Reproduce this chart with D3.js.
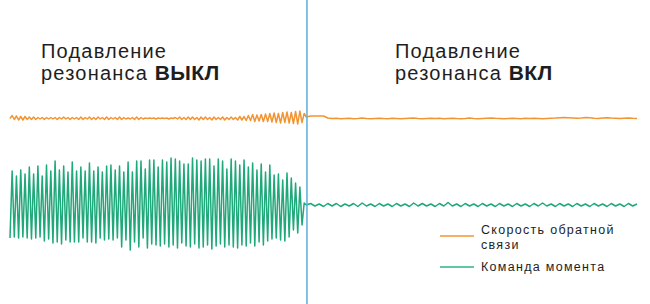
<!DOCTYPE html>
<meta charset="utf-8">
<style>
body { margin: 0; background: #fff; }
text { font-family: "Liberation Sans", Arial, sans-serif; fill: #1e1e1e; }
.sig { fill: none; stroke-width: 1.5px; stroke-linejoin: round; }
</style>
<body>
<svg width="650" height="304"></svg>
<script src="https://cdnjs.cloudflare.com/ajax/libs/d3/7.8.5/d3.min.js"></script>
<script>

// torque command, resonance suppression OFF: troughs and peaks of each cycle
var greenTroughs = [-33,-32,-33,-32,-33,-34,-33,-32,-36,-34,-38,-37,-39,-35,-37,-37,
  -37,-33,-37,-37,-38,-33,-35,-34,-35,-33,-42,-35,-45,-37,-42,-33,-43,-39,
  -40,-41,-39,-42,-40,-43,-38,-41,-42,-39,-43,-42,-40,-44,-41,-39,-42,-40,
  -42,-43,-40,-41,-38,-41,-37,-40,-36,-34,-33,-35,-36,-32,-25,-28,-20];
var greenPeaks = [34,29,35,31,38,31,39,29,40,34,44,35,39,33,43,34,
  38,34,42,34,38,33,39,40,35,39,33,43,33,44,44,36,45,
  45,38,45,43,47,46,44,41,41,47,45,44,46,46,39,46,44,36,46,
  44,40,45,38,42,35,41,33,40,30,31,25,32,27,22,18,2];

// torque command, suppression ON (every 2nd sample)
var greenRight = [0,1.5,-1,1,-1.5,1.5,-1,1.5,-1.5,1,-1,1.5,-1.5,2,-1,1,-1.5,1.5,-1,1,
  -1.5,1.5,-1,1,-1.5,2,-1,1.5,-1,1,-1.5,1.5,-1,2.5,-1,1,-1.5,1.5,-1,1,
  -1.5,1.5,-1,1,-1.5,1.5,-1,1,-1.5,1.5,-1,1,-1.5,1.5,-1,2,-1,1,-1.5,1.5,
  -1,1,-1.5,1.5,-1,1,-1.5,1.5,-1,1,-1.5,1.5,-1,1,-1.5,1.5,-1,1];

// feedback speed, suppression OFF (every sample)
var orangeLeft = [0,3,-1,2.5,-1.5,2,-1.5,2,-1,1.5,
  -1,1.5,-1,1,-0.5,1,-1,1,-0.5,1,
  -0.5,1,-1,1,-0.5,1.5,-0.5,1,-1,1,
  -0.5,1,-1,1.5,-1,1,-0.5,1.5,-1,1,
  -1,1.5,-0.5,1,-1,1.5,-1,1,-0.5,1,
  -1,1.5,-1,1,-0.5,0.5,-0.5,1,-1,1.5,
  -1,1,-0.5,0.5,0,0.5,0,0.5,-0.5,0.5,
  0,0.5,0,0.5,-0.5,0.5,0,1,-0.5,1.5,
  -1,1,-1,1.5,-1,1.5,-1,1,-1.5,1.5,
  -1,1.5,-1,1,-1.5,1.5,-1,1,-1,1.5,
  -1.5,1,-1,1.5,-1,1,-1.5,2,-1.5,2,
  -2,3,-2,4,-3,3.5,-2.5,4,-3,4.5,
  -3,5,-3.5,5.5,-4,5,-4.5,6,-4,6.5,
  -4.5,6,-5,7,-5.5,7.5,-4,5];

// feedback speed, suppression ON (every 2nd sample)
var orangeRight = [1.5,2.5,2.5,2.5,2.5,0.5,0,0.2,-0.3,0,0.3,-0.2,0,0.5,0,-0.3,0,0.3,0,-0.2,
  0.2,0,-0.3,0,0.3,0.5,0,-0.3,0,0.3,0,0.2,-0.3,0,0.3,0,-0.2,0,0.4,0,
  -0.3,0,0.3,0.5,0.2,0,-0.3,0,0.2,0,-0.2,0.3,0,0.2,0,-0.3,0,0.3,0.5,0.8,
  1,0.8,0.5,0.2,0.5,1,0.7,0.3,0,0.5,0.8,0.5,0.3,0,0.3,0.5,0.2,0];

var totalSamples = 292, switchAt = 138.3;
var titleOff = ["Подавление", "резонанса ", "ВЫКЛ"];
var titleOn = ["Подавление", "резонанса ", "ВКЛ"];
var legendItems = [
  {lines: ["Скорость обратной", "связи"], color: "#f39433"},
  {lines: ["Команда момента"], color: "#2db488"}
];

var svg = d3.select("svg");

var x = d3.scaleLinear().domain([0, totalSamples]).range([10, 637]);
var ySpeed = d3.scaleLinear().domain([-10, 10]).range([128.5, 108.5]);
var yTorque = d3.scaleLinear().domain([-40, 40]).range([245, 165]);

var greenLeft = [];
greenTroughs.forEach(function(t, i) { greenLeft.push(t, greenPeaks[i]); });

function toPts(vals, start, step) {
  return vals.map(function(v, i) { return [start + i * step, v]; });
}

var torquePts = toPts(greenLeft, 0, 1).concat(toPts(greenRight, 138, 2));
var speedPts = toPts(orangeLeft, 0, 1).concat(toPts(orangeRight, 138, 2));

var lineT = d3.line().x(d => x(d[0])).y(d => yTorque(d[1]));
var lineS = d3.line().x(d => x(d[0])).y(d => ySpeed(d[1]));

svg.append("path").attr("class", "sig").attr("d", lineS(speedPts)).attr("stroke", "#f39433");
svg.append("path").attr("class", "sig").attr("d", lineT(torquePts)).attr("stroke", "#1fa87a");

svg.append("line")
  .attr("x1", x(switchAt)).attr("x2", x(switchAt))
  .attr("y1", 0).attr("y2", 304)
  .attr("stroke", "#5aafdc").attr("stroke-width", 1.5);

function title(parts, tx) {
  svg.append("text").attr("x", tx).attr("y", 58).attr("font-size", 20)
    .attr("letter-spacing", 1.2).text(parts[0]);
  var t2 = svg.append("text").attr("x", tx).attr("y", 80).attr("font-size", 20);
  t2.append("tspan").attr("letter-spacing", 1.2).text(parts[1]);
  t2.append("tspan").attr("font-weight", "bold").attr("font-size", 21)
    .attr("letter-spacing", 0.4).text(parts[2]);
}
title(titleOff, 41);
title(titleOn, 395);

var lg = svg.selectAll(".lg").data(legendItems).enter().append("g")
  .attr("class", "lg")
  .attr("transform", (d, i) => "translate(440," + (i ? 267 : 236) + ")");
lg.append("line").attr("x1", 0).attr("x2", 34)
  .attr("stroke", d => d.color).attr("stroke-width", 1.5);
lg.each(function(d, i) {
  var g = d3.select(this);
  d.lines.forEach(function(s, j) {
    g.append("text").attr("x", 41).attr("y", (i ? 4 : -2) + j * 14.5)
      .attr("font-size", 12.5).attr("letter-spacing", 1.3).text(s);
  });
});

</script>
</body>
